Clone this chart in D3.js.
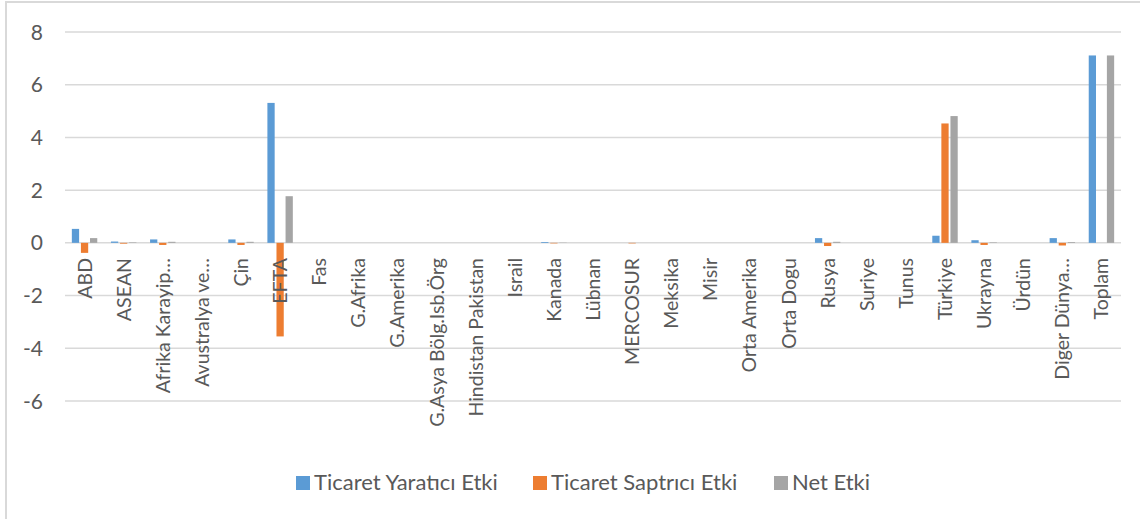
<!DOCTYPE html>
<html lang="tr">
  <head>
    <meta charset="UTF-8" />
    <title>Ticaret Etkileri</title>
    <script src="https://d3js.org/d3.v7.min.js"></script>
    <style>
      body { margin: 0; background: #fff; }
      text { font-family: Lato, "Open Sans", sans-serif; fill: #595959; }
      .grid line { stroke: #d9d9d9; stroke-width: 1.5; }
    </style>
  </head>
  <body>
    <svg id="chart" width="1140" height="519"></svg>
    <script>
      // data
      var categories = ["ABD", "ASEAN", "Afrika Karayip…", "Avustralya ve…", "Çin", "EFTA", "Fas",
        "G.Afrika", "G.Amerika", "G.Asya Bölg.Isb.Örg", "Hindistan Pakistan", "Israil", "Kanada",
        "Lübnan", "MERCOSUR", "Meksika", "Misir", "Orta Amerika", "Orta Dogu", "Rusya", "Suriye",
        "Tunus", "Türkiye", "Ukrayna", "Ürdün", "Diger Dünya…", "Toplam"];
      var seriesNames = ["Ticaret Yaratıcı Etki", "Ticaret Saptrıcı Etki", "Net Etki"];
      var yaratici = [0.53, 0.05, 0.13, 0, 0.13, 5.31, 0, 0, 0, 0, 0, 0, 0.03, 0, 0, 0, 0, 0, 0,
        0.18, 0, 0, 0.27, 0.1, 0, 0.18, 7.11];
      var saptirici = [-0.38, -0.03, -0.08, 0, -0.08, -3.55, 0, 0, 0, 0, 0, 0, -0.02, 0, -0.02, 0, 0, 0, 0,
        -0.12, 0, 0, 4.53, -0.08, 0, -0.1, 0];
      var net = [0.18, 0.02, 0.04, 0, 0.04, 1.77, 0, 0, 0, 0, 0, 0, 0.01, 0, 0, 0, 0, 0, 0,
        0.04, 0, 0, 4.81, 0.02, 0, 0.03, 7.11];
      var yTicks = [-6, -4, -2, 0, 2, 4, 6, 8];
      var colors = ["#5b9bd5", "#ed7d31", "#a5a5a5"];

      var svg = d3.select("#chart");
      var left = 65, right = 1121;

      // outer frame (runs off the right and bottom of the picture)
      svg.append("rect")
        .attr("x", 6).attr("y", 2)
        .attr("width", 1200).attr("height", 600)
        .attr("fill", "none").attr("stroke", "#d9d9d9").attr("stroke-width", 2);

      var y = d3.scaleLinear().domain([-6, 8]).range([401, 32]);

      var x = d3.scaleBand().domain(categories).range([left, right])
        .paddingInner(0.35).paddingOuter(0.175);
      var x1 = d3.scaleBand().domain(seriesNames).range([0, x.bandwidth()]).paddingInner(0.2);

      // gridlines
      svg.append("g").attr("class", "grid")
        .selectAll("line").data(yTicks).enter().append("line")
        .attr("x1", left).attr("x2", right)
        .attr("y1", function (d) { return y(d); })
        .attr("y2", function (d) { return y(d); });

      // y tick labels
      svg.append("g").selectAll("text").data(yTicks).enter().append("text")
        .attr("x", 43).attr("y", function (d) { return y(d); })
        .attr("dy", "0.36em").attr("text-anchor", "end")
        .style("font-size", "21px")
        .text(function (d) { return d; });

      var table = categories.map(function (c, i) {
        return { cat: c, values: [yaratici[i], saptirici[i], net[i]] };
      });

      var groups = svg.append("g").selectAll("g").data(table).enter().append("g")
        .attr("transform", function (d) { return "translate(" + x(d.cat) + ",0)"; });

      groups.selectAll("rect")
        .data(function (d) {
          return d.values.map(function (v, j) { return { s: seriesNames[j], v: v, j: j }; });
        })
        .enter().append("rect")
        .attr("x", function (d) { return x1(d.s); })
        .attr("width", x1.bandwidth())
        .attr("y", function (d) { return y(Math.max(0, d.v)); })
        .attr("height", function (d) { return Math.abs(y(d.v) - y(0)); })
        .attr("fill", function (d) { return colors[d.j]; });

      // category labels, rotated
      svg.append("g").selectAll("text").data(categories).enter().append("text")
        .attr("transform", function (d) {
          return "translate(" + (x(d) + x.bandwidth() / 2) + ",258) rotate(-90)";
        })
        .attr("dy", "0.36em")
        .attr("text-anchor", "end")
        .style("font-size", "19.5px")
        .text(function (d) { return d; });

      // legend
      var legendX = [296, 533, 774];
      var legend = svg.append("g").selectAll("g").data(seriesNames).enter().append("g")
        .attr("transform", function (d, i) { return "translate(" + legendX[i] + ",476)"; });
      legend.append("rect")
        .attr("width", 14).attr("height", 14)
        .attr("fill", function (d, i) { return colors[i]; });
      legend.append("text")
        .attr("x", 18).attr("y", 14)
        .style("font-size", "22px")
        .text(function (d) { return d; });
    </script>
  </body>
</html>
